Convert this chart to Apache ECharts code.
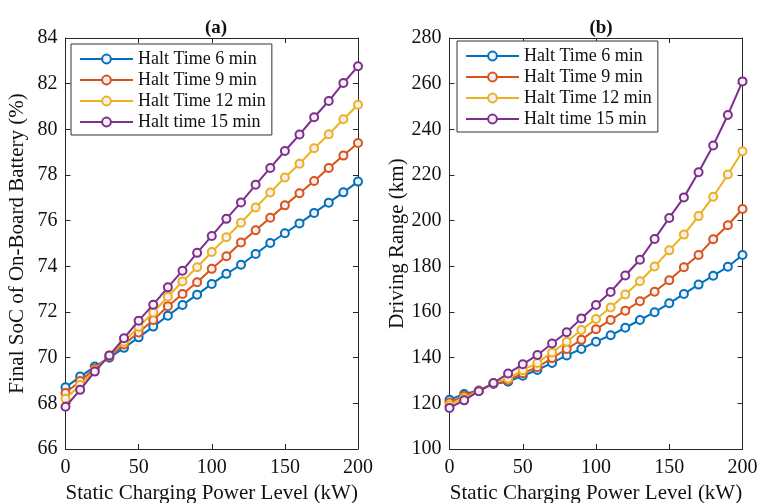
<!DOCTYPE html>
<html>
<head>
<meta charset="utf-8">
<script src="https://cdn.jsdelivr.net/npm/echarts@6/dist/echarts.min.js"></script>
<style>
html,body{margin:0;padding:0;background:#fff;}
#c{width:758px;height:503px;}
</style>
</head>
<body>
<div id="c"></div>
<script>
// ---- data ----
const power = [0, 10, 20, 30, 40, 50, 60, 70, 80, 90, 100, 110, 120, 130, 140, 150, 160, 170, 180, 190, 200];
const seriesNames = ['Halt Time 6 min', 'Halt Time 9 min', 'Halt Time 12 min', 'Halt time 15 min'];

const soc6  = [68.70, 69.17, 69.61, 70.00, 70.43, 70.89, 71.36, 71.84, 72.31, 72.76, 73.23, 73.67, 74.07, 74.54, 75.02, 75.45, 75.88, 76.34, 76.79, 77.24, 77.71];
const soc9  = [68.45, 68.98, 69.52, 70.05, 70.58, 71.10, 71.65, 72.25, 72.79, 73.30, 73.89, 74.44, 75.04, 75.58, 76.13, 76.67, 77.20, 77.74, 78.31, 78.85, 79.40];
const soc12 = [68.20, 68.80, 69.45, 70.10, 70.70, 71.35, 71.98, 72.67, 73.34, 73.96, 74.63, 75.27, 75.91, 76.58, 77.23, 77.89, 78.49, 79.17, 79.78, 80.44, 81.08];
const soc15 = [67.85, 68.59, 69.39, 70.10, 70.85, 71.62, 72.32, 73.08, 73.81, 74.59, 75.33, 76.08, 76.80, 77.57, 78.31, 79.05, 79.77, 80.53, 81.24, 82.03, 82.76];

const range6  = [121.6, 124.1, 125.6, 128.5, 129.5, 132.1, 134.6, 137.7, 141.0, 143.8, 147.0, 149.8, 153.1, 156.5, 159.9, 163.8, 167.9, 172.0, 175.9, 179.8, 185.0];
const range9  = [120.4, 123.3, 125.5, 128.7, 130.0, 133.2, 135.8, 139.8, 143.8, 147.8, 152.5, 156.5, 160.6, 164.7, 168.9, 173.9, 179.6, 185.0, 191.9, 198.0, 205.1];
const range12 = [119.2, 122.3, 125.4, 128.9, 130.9, 134.5, 137.7, 142.3, 147.0, 152.1, 156.9, 162.0, 167.7, 173.5, 179.9, 187.0, 193.9, 202.0, 210.5, 220.2, 230.4];
const range15 = [118.0, 121.3, 125.3, 128.9, 133.1, 137.1, 141.2, 146.2, 151.1, 157.2, 163.1, 168.8, 176.0, 182.9, 192.0, 201.2, 210.2, 221.2, 232.9, 246.3, 261.0];

const colors = ['#0072BD', '#D95319', '#EDB120', '#7E2F8E'];
const FONT = 'Liberation Serif';
const AX = '#262626';
const TINY = 0.01; // tiny rotation keeps serif rendering at large sizes

function pairs(vals) { return power.map((p, i) => [p, vals[i]]); }

function xAxes(gi, name) {
  const base = {
    gridIndex: gi, type: 'value', min: 0, max: 200, interval: 50,
    splitLine: { show: false },
    axisLine: { show: true, onZero: false, lineStyle: { color: AX, width: 1 } },
    axisTick: { show: true, inside: true, length: 5, lineStyle: { color: AX } }
  };
  return [
    Object.assign({}, base, {
      position: 'bottom',
      axisLabel: { show: true, color: '#111', fontFamily: FONT, fontSize: 20, margin: 9,
                   rotate: TINY, align: 'center', verticalAlign: 'top' },
      name: name, nameLocation: 'middle', nameGap: 32, nameRotate: TINY,
      nameTextStyle: { color: '#111', fontFamily: FONT, fontSize: 21, align: 'center', verticalAlign: 'top' }
    }),
    Object.assign({}, base, { position: 'top', axisLabel: { show: false } })
  ];
}
function yAxes(gi, min, max, interval, name, nameGap) {
  const base = {
    gridIndex: gi, type: 'value', min: min, max: max, interval: interval,
    splitLine: { show: false },
    axisLine: { show: true, onZero: false, lineStyle: { color: AX, width: 1 } },
    axisTick: { show: true, inside: true, length: 5, lineStyle: { color: AX } }
  };
  return [
    Object.assign({}, base, {
      position: 'left',
      axisLabel: { show: true, color: '#111', fontFamily: FONT, fontSize: 20, margin: 8,
                   rotate: TINY, align: 'right', verticalAlign: 'middle' },
      name: name, nameLocation: 'middle', nameGap: nameGap,
      nameTextStyle: { color: '#111', fontFamily: FONT, fontSize: 21 }
    }),
    Object.assign({}, base, { position: 'right', axisLabel: { show: false } })
  ];
}

function makeSeries(gi, xi, yi, arrs) {
  return arrs.map((a, k) => ({
    name: seriesNames[k], type: 'line', xAxisIndex: xi, yAxisIndex: yi,
    data: pairs(a),
    symbol: 'circle', symbolSize: 8, showSymbol: true,
    lineStyle: { color: colors[k], width: 2 },
    itemStyle: { color: '#f4f0f6', borderColor: colors[k], borderWidth: 2 },
    emphasis: { disabled: true },
    animation: false, z: 2 + k
  }));
}

function legend(left, top) {
  return {
    orient: 'vertical', left: left, top: top,
    data: seriesNames,
    backgroundColor: '#fff',
    borderColor: '#333', borderWidth: 1,
    padding: [6, 6, 4, 8],
    itemGap: 3, itemWidth: 53, itemHeight: 11, itemTextGap: 6,
    textStyle: { color: '#111', fontFamily: FONT, fontSize: 18 }
  };
}

const chart = echarts.init(document.getElementById('c'), null, { renderer: 'canvas' });
chart.setOption({
  backgroundColor: '#fff',
  animation: false,
  color: colors,
  title: [
    { text: '(a)', left: 211, top: 14, textAlign: 'center',
      textStyle: { fontFamily: FONT, fontSize: 19, fontWeight: 'bold', color: '#111' } },
    { text: '(b)', left: 596, top: 14, textAlign: 'center',
      textStyle: { fontFamily: FONT, fontSize: 19, fontWeight: 'bold', color: '#111' } }
  ],
  legend: [legend(71, 44), legend(457, 41)],
  grid: [
    { left: 65.5, top: 38, width: 292.5, height: 411, containLabel: false, outerBoundsMode: 'none' },
    { left: 449.5, top: 38, width: 293, height: 411, containLabel: false, outerBoundsMode: 'none' }
  ],
  xAxis: [].concat(
    xAxes(0, 'Static Charging Power Level (kW)'),
    xAxes(1, 'Static Charging Power Level (kW)')
  ),
  yAxis: [].concat(
    yAxes(0, 66, 84, 2, 'Final SoC of On-Board Battery (%)', 38),
    yAxes(1, 100, 280, 20, 'Driving Range (km)', 39)
  ),
  series: [].concat(
    makeSeries(0, 0, 0, [soc6, soc9, soc12, soc15]),
    makeSeries(1, 2, 2, [range6, range9, range12, range15])
  )
});
</script>
</body>
</html>
